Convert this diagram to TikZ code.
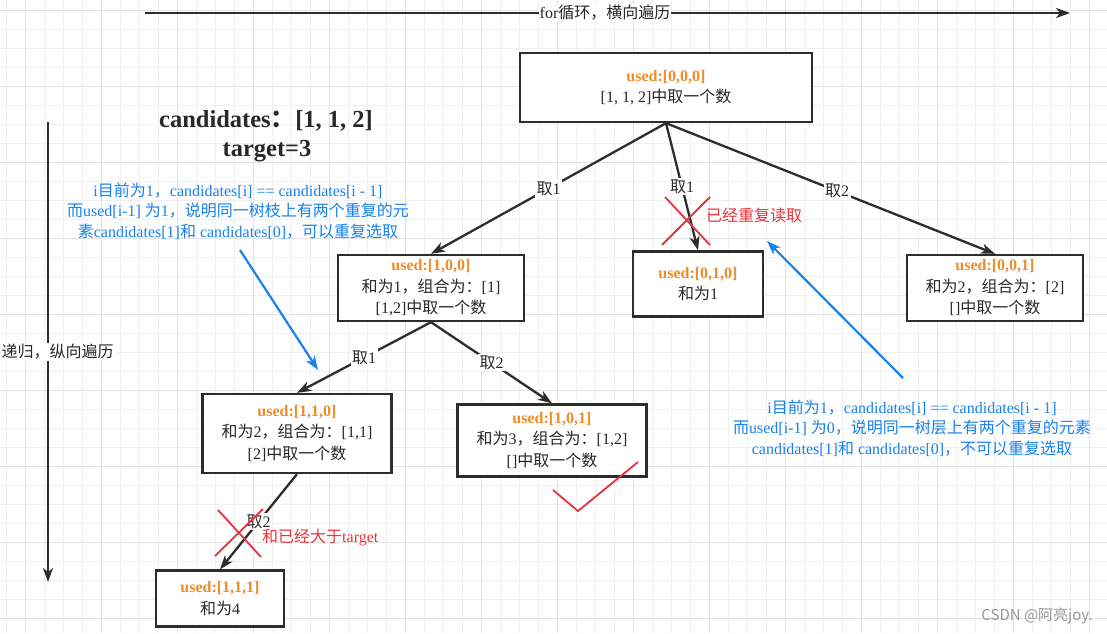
\documentclass[tikz,border=0pt]{standalone}
\usepackage{fontspec}
\setmainfont{Liberation Serif}
\newfontfamily\cjk{Noto Sans CJK SC}
\newcommand\zh[1]{{\cjk #1}}
\usetikzlibrary{arrows.meta}
\definecolor{linec}{RGB}{45,45,45}
\definecolor{txtc}{RGB}{40,40,40}
\definecolor{orangec}{RGB}{240,140,40}
\definecolor{bluec}{RGB}{25,130,235}
\definecolor{redc}{RGB}{232,50,60}
\definecolor{gridminor}{RGB}{240,240,240}
\definecolor{gridmajor}{RGB}{226,226,226}
\definecolor{wmc}{RGB}{150,150,150}
\newcommand\used[1]{\textcolor{orangec}{\textbf{used:[#1]}}}
\tikzset{
  box/.style={draw=linec, line width=2.3pt, fill=white, align=center, inner sep=0pt,
    text=txtc, font=\fontsize{16}{21.5}\selectfont},
  tip/.style={-{Stealth[length=14pt,width=10pt,inset=4pt]}},
  edge/.style={draw=linec, line width=2.3pt, tip},
  elab/.style={fill=white, inner sep=1.5pt, text=txtc, font=\fontsize{16}{19}\selectfont},
  bluearrow/.style={draw=bluec, line width=2.2pt, tip},
  bluetext/.style={text=bluec, align=center, font=\fontsize{16}{20.5}\selectfont},
  redx/.style={draw=redc, line width=1.8pt},
  redtext/.style={text=redc, font=\fontsize{16}{19}\selectfont, inner sep=0pt},
  axisarrow/.style={draw=linec, line width=2.2pt, tip},
}
\begin{document}
\begin{tikzpicture}[x=1pt,y=-1pt]
\useasboundingbox (0,0) rectangle (1107,633);
\fill[white] (0,0) rectangle (1107,633);
% grid
\foreach \i in {0,...,57} \draw[gridminor, line width=0.8pt] ({6+19*\i},0) -- ({6+19*\i},633);
\foreach \j in {0,...,32} \draw[gridminor, line width=0.8pt] (0,{10+19*\j}) -- (1107,{10+19*\j});
\foreach \i in {0,...,14} \draw[gridmajor, line width=1pt] ({25+76*\i},0) -- ({25+76*\i},633);
\foreach \j in {0,...,8} \draw[gridmajor, line width=1pt] (0,{10+76*\j}) -- (1107,{10+76*\j});

% axis arrows
\coordinate (hs) at (145,13);
\coordinate (he) at (1070,13);
\draw[axisarrow] (hs) -- (he);
\node[elab, inner sep=1pt] (hl) at (605,13) {for\zh{循环，横向遍历}};
\coordinate (vs) at (48,122);
\coordinate (ve) at (48,582);
\draw[axisarrow] (vs) -- (ve);
\node[elab, inner sep=1pt, anchor=west] (vl) at (0.5,352) {\zh{递归，纵向遍历}};

% title
\node[text=txtc, font=\fontsize{24.5}{30}\selectfont\bfseries] (title1) at (266,121) {candidates\zh{：}[1, 1, 2]};
\node[text=txtc, font=\fontsize{24.5}{30}\selectfont\bfseries] (title2) at (267,151) {target=3};

% nodes
\node[box, minimum width=292pt, minimum height=69pt] (root) at (666,87.5)
  {\used{0,0,0}\\{}[1, 1, 2]\zh{中取一个数}};
\node[box, minimum width=186pt, minimum height=66pt] (n100) at (431,288)
  {\used{1,0,0}\\\zh{和为}1\zh{，组合为：}[1]\\{}[1,2]\zh{中取一个数}};
\node[box, minimum width=130pt, minimum height=65pt] (n010) at (698,284)
  {\used{0,1,0}\\\zh{和为}1};
\node[box, minimum width=176pt, minimum height=66pt] (n001) at (995,288)
  {\used{0,0,1}\\\zh{和为}2\zh{，组合为：}[2]\\{}[]\zh{中取一个数}};
\node[box, minimum width=189pt, minimum height=79pt] (n110) at (297,433.5)
  {\used{1,1,0}\\\zh{和为}2\zh{，组合为：}[1,1]\\{}[2]\zh{中取一个数}};
\node[box, minimum width=189pt, minimum height=72pt] (n101) at (552,440.5)
  {\used{1,0,1}\\\zh{和为}3\zh{，组合为：}[1,2]\\{}[]\zh{中取一个数}};
\node[box, minimum width=128pt, minimum height=56pt] (n111) at (220,598.5)
  {\used{1,1,1}\\\zh{和为}4};

% edges
\draw[edge] (root.south) -- (n100.north) node[elab, midway] (l1) {\zh{取}1};
\draw[edge] (root.south) -- (n010.north) node[elab, midway] (l2) {\zh{取}1};
\draw[edge] (root.south) -- (n001.north) node[elab, pos=0.52] (l3) {\zh{取}2};
\draw[edge] (n100.south) -- (n110.north) node[elab, midway] (l4) {\zh{取}1};
\draw[edge] (n100.south) -- (n101.north) node[elab, midway] (l5) {\zh{取}2};
\draw[edge] (n110.south) -- (n111.north) node[elab, midway] (l6) {\zh{取}2};

% red marks
\draw[redx] (665,197) -- (710,245);
\draw[redx] (710,197) -- (662,245);
\node[redtext, anchor=west] (r1) at (706,215) {\zh{已经重复读取}};
\draw[redx] (218,510) -- (261,557);
\draw[redx] (215,556) -- (263,509);
\node[redtext, anchor=west] (r2) at (262,537) {\zh{和已经大于}target};
\draw[redx] (553,490) -- (578,511) -- (638,462);

% blue notes
\node[bluetext] (bt1) at (238,211)
  {i\zh{目前为}1\zh{，}candidates[i] == candidates[i - 1]\\
   \zh{而}used[i-1] \zh{为}1\zh{，说明同一树枝上有两个重复的元}\\
   \zh{素}candidates[1]\zh{和} candidates[0]\zh{，可以重复选取}};
\coordinate (b1s) at (240,250);
\coordinate (b1e) at (318,370);
\draw[bluearrow] (b1s) -- (b1e);
\node[bluetext] (bt2) at (912,428)
  {i\zh{目前为}1\zh{，}candidates[i] == candidates[i - 1]\\
   \zh{而}used[i-1] \zh{为}0\zh{，说明同一树层上有两个重复的元素}\\
   candidates[1]\zh{和} candidates[0]\zh{，不可以重复选取}};
\coordinate (b2s) at (903,378);
\coordinate (b2e) at (767,241);
\draw[bluearrow] (b2s) -- (b2e);

% watermark
\node[text=wmc, anchor=east, inner sep=0pt, font=\cjk\fontsize{15}{18}\selectfont] (wm) at (1093,616) {CSDN @阿亮joy.};
\end{tikzpicture}
\end{document}
